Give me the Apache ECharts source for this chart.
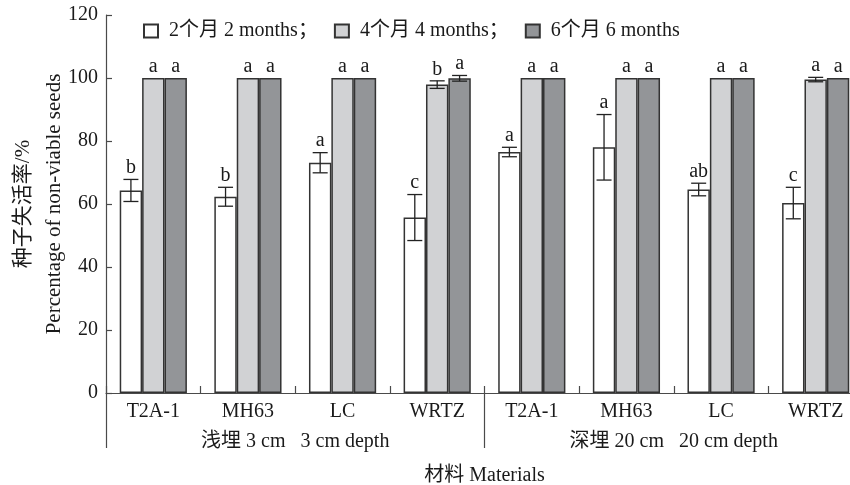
<!DOCTYPE html>
<html>
<head>
<meta charset="utf-8">
<script src="https://cdn.jsdelivr.net/npm/echarts@6/dist/echarts.min.js"></script>
<style>html,body{margin:0;padding:0;background:#fff;}#c{width:850px;height:485px;}</style>
</head>
<body>
<div id="c"></div>
<script>
const categories = ['T2A-1','MH63','LC','WRTZ','T2A-1','MH63','LC','WRTZ'];
const groups = ['浅埋 3 cm   3 cm depth', '深埋 20 cm   20 cm depth'];
const seriesNames = ['2个月 2 months', '4个月 4 months', '6个月 6 months'];
const yTicks = [0, 20, 40, 60, 80, 100, 120];

const months2 = [64.3, 62.3, 73.1, 55.7, 76.5, 78.0, 64.6, 60.3];
const err2    = [3.5, 3.0, 3.2, 7.3, 1.5, 10.4, 2.0, 5.0];
const sig2    = ['b','b','a','c','a','a','ab','c'];

const months4 = [100, 100, 100, 97.9, 100, 100, 100, 99.5];
const err4    = [0, 0, 0, 1.2, 0, 0, 0, 0.7];
const sig4    = ['a','a','a','b','a','a','a','a'];

const months6 = [100, 100, 100, 99.9, 100, 100, 100, 100];
const err6    = [0, 0, 0, 0.9, 0, 0, 0, 0];
const sig6    = ['a','a','a','a','a','a','a','a'];

const FONT = "'Liberation Serif', 'Noto Sans CJK SC', serif";
const TXT = '#1a1a1a';
const AX = '#4a4a4a';
const colors = ['#ffffff', '#d1d2d4', '#939598'];
const CAT_GAP = 0.29;

const values = [months2, months4, months6];
const errs = [err2, err4, err6];
const sigs = [sig2, sig4, sig6];

function errSeries(k) {
  const data = values[k].map((v, i) => [i, v, errs[k][i], sigs[k][i]]);
  return {
    type: 'custom',
    xAxisIndex: 0,
    yAxisIndex: 0,
    z: 5,
    silent: true,
    data: data,
    renderItem: function (params, api) {
      const i = api.value(0), v = api.value(1), e = api.value(2);
      const sig = data[params.dataIndex][3];
      const band = api.size([1, 0])[0];
      const bw = band * (1 - CAT_GAP) / 3;
      const base = api.coord([i, v]);
      const x = base[0] + (k - 1) * bw;
      const top = api.coord([i, v + e])[1];
      const bot = api.coord([i, v - e])[1];
      const cap = 7.5;
      const children = [];
      if (e > 0) {
        const st = { stroke: '#222', lineWidth: 1.3 };
        children.push({ type: 'line', shape: { x1: x, y1: top, x2: x, y2: bot }, style: st });
        children.push({ type: 'line', shape: { x1: x - cap, y1: top, x2: x + cap, y2: top }, style: st });
        children.push({ type: 'line', shape: { x1: x - cap, y1: bot, x2: x + cap, y2: bot }, style: st });
      }
      children.push({
        type: 'text',
        style: { text: sig, x: x, y: top - 1.5, align: 'center', verticalAlign: 'bottom',
                 font: '20px ' + FONT, fill: TXT }
      });
      return { type: 'group', children: children };
    }
  };
}

const barSeries = seriesNames.map((n, k) => ({
  name: n,
  type: 'bar',
  xAxisIndex: 0,
  data: values[k],
  barGap: '0%',
  barCategoryGap: (CAT_GAP * 100) + '%',
  itemStyle: { color: colors[k], borderColor: '#333', borderWidth: 1.5 },
  emphasis: { disabled: true }
}));

const chart = echarts.init(document.getElementById('c'));
chart.setOption({
  animation: false,
  backgroundColor: '#fff',
  textStyle: { fontFamily: FONT, color: TXT },
  grid: { left: 106, right: -13, top: 15, bottom: 92, containLabel: false, outerBoundsMode: 'none' },
  legend: {
    left: 138, top: 16,
    itemWidth: 14, itemHeight: 13, itemGap: 16,
    icon: 'rect',
    data: seriesNames,
    formatter: function (name) { return name === seriesNames[2] ? name : name + '；'; },
    textStyle: { fontFamily: FONT, fontSize: 20, color: TXT, padding: [0, 0, 0, 6] },
    selectedMode: false
  },
  xAxis: [
    {
      type: 'category',
      data: categories,
      position: 'bottom',
      axisLine: { show: true, lineStyle: { color: AX, width: 1.2 } },
      axisTick: { show: true, inside: true, length: 7, alignWithLabel: false, interval: 0, lineStyle: { color: AX, width: 1.2 } },
      axisLabel: { interval: 0, margin: 9, fontSize: 20, fontFamily: FONT, color: TXT },
      name: '材料 Materials',
      nameLocation: 'middle',
      nameGap: 73,
      nameMoveOverlap: false,
      nameTextStyle: { fontSize: 20, fontFamily: FONT, color: TXT }
    },
    {
      type: 'category',
      data: groups,
      position: 'bottom',
      axisLine: { show: false },
      axisTick: { show: true, inside: false, length: 55, alignWithLabel: false, interval: 0, lineStyle: { color: AX, width: 1.2 } },
      axisLabel: { interval: 0, margin: 39, fontSize: 20, fontFamily: FONT, color: TXT }
    }
  ],
  yAxis: {
    type: 'value',
    min: yTicks[0], max: yTicks[yTicks.length - 1], interval: yTicks[1] - yTicks[0],
    axisLine: { show: true, lineStyle: { color: AX, width: 1.2 } },
    axisTick: { show: true, inside: true, length: 6, lineStyle: { color: AX, width: 1.2 } },
    splitLine: { show: false },
    axisLabel: { margin: 8, fontSize: 20, fontFamily: FONT, color: TXT },
    name: '种子失活率/%\nPercentage of non-viable seeds',
    nameLocation: 'middle',
    nameRotate: 90,
    nameGap: 36,
    nameMoveOverlap: false,
    nameTextStyle: { fontSize: 21, fontFamily: FONT, color: TXT, lineHeight: 31, align: 'center' }
  },
  series: barSeries.concat([errSeries(0), errSeries(1), errSeries(2)])
});
</script>
</body>
</html>
